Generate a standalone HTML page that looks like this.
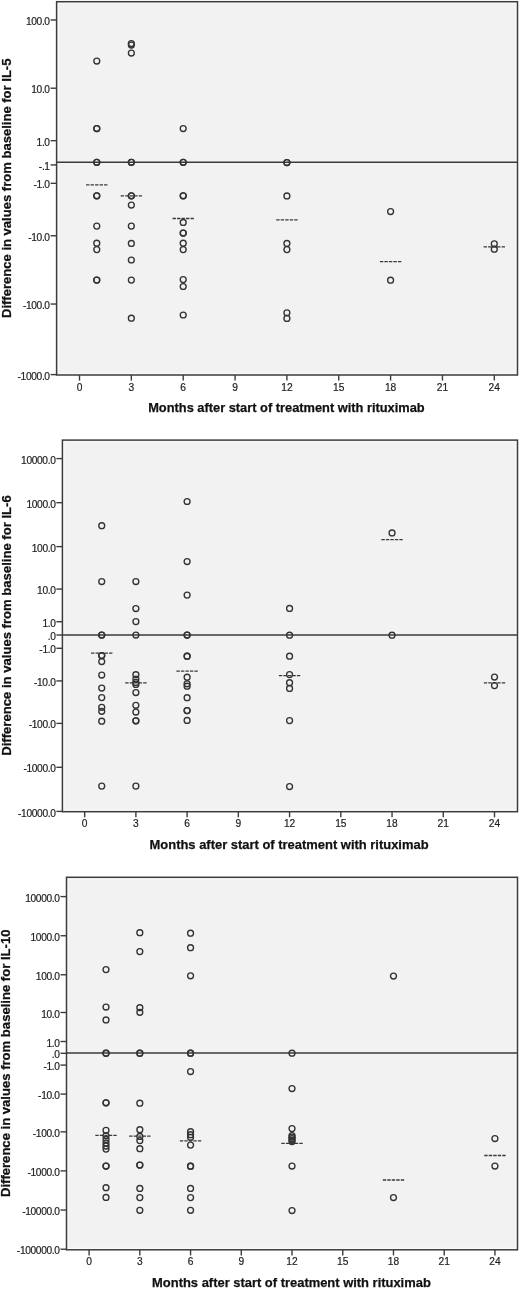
<!DOCTYPE html><html><head><meta charset="utf-8"><style>html,body{margin:0;padding:0;background:#fff;width:520px;height:1291px;overflow:hidden}svg{display:block;will-change:transform}text{font-family:"Liberation Sans",sans-serif}</style></head><body>
<svg width="520" height="1291" viewBox="0 0 520 1291">
<rect width="520" height="1291" fill="#fff"/>
<rect x="56.6" y="1.7" width="460.90" height="373.30" fill="#f2f2f2"/>
<rect x="58.1" y="3.2" width="457.90" height="370.30" fill="none" stroke="#f8f8f8" stroke-width="1.5"/>
<line x1="56.6" x2="517.5" y1="162.30" y2="162.30" stroke="#3a3a3a" stroke-width="1.5"/>
<rect x="56.6" y="1.7" width="460.90" height="373.30" fill="none" stroke="#3c3c3c" stroke-width="1.5"/>
<line x1="50.6" x2="56.6" y1="19.97" y2="19.97" stroke="#3c3c3c" stroke-width="1.4"/>
<text x="49.70" y="25.07" font-size="10.2" letter-spacing="-0.35" text-anchor="end" fill="#1e1e1e" stroke="#1e1e1e" stroke-width="0.2">100.0</text>
<line x1="50.6" x2="56.6" y1="88.21" y2="88.21" stroke="#3c3c3c" stroke-width="1.4"/>
<text x="49.70" y="93.31" font-size="10.2" letter-spacing="-0.35" text-anchor="end" fill="#1e1e1e" stroke="#1e1e1e" stroke-width="0.2">10.0</text>
<line x1="50.6" x2="56.6" y1="140.67" y2="140.67" stroke="#3c3c3c" stroke-width="1.4"/>
<text x="49.70" y="145.77" font-size="10.2" letter-spacing="-0.35" text-anchor="end" fill="#1e1e1e" stroke="#1e1e1e" stroke-width="0.2">1.0</text>
<line x1="50.6" x2="56.6" y1="164.93" y2="164.93" stroke="#3c3c3c" stroke-width="1.4"/>
<text x="49.70" y="170.03" font-size="10.2" letter-spacing="-0.35" text-anchor="end" fill="#1e1e1e" stroke="#1e1e1e" stroke-width="0.2">-.1</text>
<line x1="50.6" x2="56.6" y1="183.33" y2="183.33" stroke="#3c3c3c" stroke-width="1.4"/>
<text x="49.70" y="188.43" font-size="10.2" letter-spacing="-0.35" text-anchor="end" fill="#1e1e1e" stroke="#1e1e1e" stroke-width="0.2">-1.0</text>
<line x1="50.6" x2="56.6" y1="235.79" y2="235.79" stroke="#3c3c3c" stroke-width="1.4"/>
<text x="49.70" y="240.89" font-size="10.2" letter-spacing="-0.35" text-anchor="end" fill="#1e1e1e" stroke="#1e1e1e" stroke-width="0.2">-10.0</text>
<line x1="50.6" x2="56.6" y1="304.03" y2="304.03" stroke="#3c3c3c" stroke-width="1.4"/>
<text x="49.70" y="309.13" font-size="10.2" letter-spacing="-0.35" text-anchor="end" fill="#1e1e1e" stroke="#1e1e1e" stroke-width="0.2">-100.0</text>
<line x1="50.6" x2="56.6" y1="374.61" y2="374.61" stroke="#3c3c3c" stroke-width="1.4"/>
<text x="49.70" y="379.71" font-size="10.2" letter-spacing="-0.35" text-anchor="end" fill="#1e1e1e" stroke="#1e1e1e" stroke-width="0.2">-1000.0</text>
<line x1="79.50" x2="79.50" y1="375.0" y2="380.6" stroke="#3c3c3c" stroke-width="1.4"/>
<text x="79.50" y="390.60" font-size="10.2" text-anchor="middle" fill="#1e1e1e" stroke="#1e1e1e" stroke-width="0.2">0</text>
<line x1="131.35" x2="131.35" y1="375.0" y2="380.6" stroke="#3c3c3c" stroke-width="1.4"/>
<text x="131.35" y="390.60" font-size="10.2" text-anchor="middle" fill="#1e1e1e" stroke="#1e1e1e" stroke-width="0.2">3</text>
<line x1="183.20" x2="183.20" y1="375.0" y2="380.6" stroke="#3c3c3c" stroke-width="1.4"/>
<text x="183.20" y="390.60" font-size="10.2" text-anchor="middle" fill="#1e1e1e" stroke="#1e1e1e" stroke-width="0.2">6</text>
<line x1="235.05" x2="235.05" y1="375.0" y2="380.6" stroke="#3c3c3c" stroke-width="1.4"/>
<text x="235.05" y="390.60" font-size="10.2" text-anchor="middle" fill="#1e1e1e" stroke="#1e1e1e" stroke-width="0.2">9</text>
<line x1="286.90" x2="286.90" y1="375.0" y2="380.6" stroke="#3c3c3c" stroke-width="1.4"/>
<text x="286.90" y="390.60" font-size="10.2" text-anchor="middle" fill="#1e1e1e" stroke="#1e1e1e" stroke-width="0.2">12</text>
<line x1="338.75" x2="338.75" y1="375.0" y2="380.6" stroke="#3c3c3c" stroke-width="1.4"/>
<text x="338.75" y="390.60" font-size="10.2" text-anchor="middle" fill="#1e1e1e" stroke="#1e1e1e" stroke-width="0.2">15</text>
<line x1="390.59" x2="390.59" y1="375.0" y2="380.6" stroke="#3c3c3c" stroke-width="1.4"/>
<text x="390.59" y="390.60" font-size="10.2" text-anchor="middle" fill="#1e1e1e" stroke="#1e1e1e" stroke-width="0.2">18</text>
<line x1="442.44" x2="442.44" y1="375.0" y2="380.6" stroke="#3c3c3c" stroke-width="1.4"/>
<text x="442.44" y="390.60" font-size="10.2" text-anchor="middle" fill="#1e1e1e" stroke="#1e1e1e" stroke-width="0.2">21</text>
<line x1="494.29" x2="494.29" y1="375.0" y2="380.6" stroke="#3c3c3c" stroke-width="1.4"/>
<text x="494.29" y="390.60" font-size="10.2" text-anchor="middle" fill="#1e1e1e" stroke="#1e1e1e" stroke-width="0.2">24</text>
<text x="286.45" y="411.9" font-size="13" font-weight="bold" text-anchor="middle" fill="#111" stroke="#111" stroke-width="0.25" textLength="276.5" lengthAdjust="spacingAndGlyphs">Months after start of treatment with rituximab</text>
<text transform="translate(11.3,188.3) rotate(-90)" font-size="13" font-weight="bold" text-anchor="middle" fill="#111" stroke="#111" stroke-width="0.25" textLength="259.5" lengthAdjust="spacingAndGlyphs">Difference in values from baseline for IL-5</text>
<line x1="86.08" x2="107.48" y1="184.8" y2="184.8" stroke="#3a3a3a" stroke-width="1.3" stroke-dasharray="3.4,1.1"/>
<line x1="120.65" x2="142.05" y1="195.8" y2="195.8" stroke="#3a3a3a" stroke-width="1.3" stroke-dasharray="3.4,1.1"/>
<line x1="172.50" x2="193.90" y1="218.5" y2="218.5" stroke="#3a3a3a" stroke-width="1.3" stroke-dasharray="3.4,1.1"/>
<line x1="276.20" x2="297.60" y1="219.9" y2="219.9" stroke="#3a3a3a" stroke-width="1.3" stroke-dasharray="3.4,1.1"/>
<line x1="379.89" x2="401.29" y1="261.6" y2="261.6" stroke="#3a3a3a" stroke-width="1.3" stroke-dasharray="3.4,1.1"/>
<line x1="483.59" x2="504.99" y1="246.8" y2="246.8" stroke="#3a3a3a" stroke-width="1.3" stroke-dasharray="3.4,1.1"/>
<circle cx="96.78" cy="61.1" r="2.95" fill="none" stroke="#333" stroke-width="1.35"/>
<circle cx="96.78" cy="128.5" r="2.95" fill="none" stroke="#333" stroke-width="1.35"/>
<circle cx="96.78" cy="128.5" r="2.95" fill="none" stroke="#333" stroke-width="1.35"/>
<circle cx="96.78" cy="162.3" r="2.95" fill="none" stroke="#333" stroke-width="1.35"/>
<circle cx="96.78" cy="162.3" r="2.95" fill="none" stroke="#333" stroke-width="1.35"/>
<circle cx="96.78" cy="195.8" r="2.95" fill="none" stroke="#333" stroke-width="1.35"/>
<circle cx="96.78" cy="195.8" r="2.95" fill="none" stroke="#333" stroke-width="1.35"/>
<circle cx="96.78" cy="226.1" r="2.95" fill="none" stroke="#333" stroke-width="1.35"/>
<circle cx="96.78" cy="243.2" r="2.95" fill="none" stroke="#333" stroke-width="1.35"/>
<circle cx="96.78" cy="249.6" r="2.95" fill="none" stroke="#333" stroke-width="1.35"/>
<circle cx="96.78" cy="280.1" r="2.95" fill="none" stroke="#333" stroke-width="1.35"/>
<circle cx="96.78" cy="280.1" r="2.95" fill="none" stroke="#333" stroke-width="1.35"/>
<circle cx="131.35" cy="43.5" r="2.95" fill="none" stroke="#333" stroke-width="1.35"/>
<circle cx="131.35" cy="45" r="2.95" fill="none" stroke="#333" stroke-width="1.35"/>
<circle cx="131.35" cy="53" r="2.95" fill="none" stroke="#333" stroke-width="1.35"/>
<circle cx="131.35" cy="162.3" r="2.95" fill="none" stroke="#333" stroke-width="1.35"/>
<circle cx="131.35" cy="162.3" r="2.95" fill="none" stroke="#333" stroke-width="1.35"/>
<circle cx="131.35" cy="195.8" r="2.95" fill="none" stroke="#333" stroke-width="1.35"/>
<circle cx="131.35" cy="195.8" r="2.95" fill="none" stroke="#333" stroke-width="1.35"/>
<circle cx="131.35" cy="205" r="2.95" fill="none" stroke="#333" stroke-width="1.35"/>
<circle cx="131.35" cy="226.1" r="2.95" fill="none" stroke="#333" stroke-width="1.35"/>
<circle cx="131.35" cy="243.4" r="2.95" fill="none" stroke="#333" stroke-width="1.35"/>
<circle cx="131.35" cy="260" r="2.95" fill="none" stroke="#333" stroke-width="1.35"/>
<circle cx="131.35" cy="280.1" r="2.95" fill="none" stroke="#333" stroke-width="1.35"/>
<circle cx="131.35" cy="318.2" r="2.95" fill="none" stroke="#333" stroke-width="1.35"/>
<circle cx="183.20" cy="128.5" r="2.95" fill="none" stroke="#333" stroke-width="1.35"/>
<circle cx="183.20" cy="162.3" r="2.95" fill="none" stroke="#333" stroke-width="1.35"/>
<circle cx="183.20" cy="162.3" r="2.95" fill="none" stroke="#333" stroke-width="1.35"/>
<circle cx="183.20" cy="195.8" r="2.95" fill="none" stroke="#333" stroke-width="1.35"/>
<circle cx="183.20" cy="195.8" r="2.95" fill="none" stroke="#333" stroke-width="1.35"/>
<circle cx="183.20" cy="222.4" r="2.95" fill="none" stroke="#333" stroke-width="1.35"/>
<circle cx="183.20" cy="233" r="2.95" fill="none" stroke="#333" stroke-width="1.35"/>
<circle cx="183.20" cy="233" r="2.95" fill="none" stroke="#333" stroke-width="1.35"/>
<circle cx="183.20" cy="243.2" r="2.95" fill="none" stroke="#333" stroke-width="1.35"/>
<circle cx="183.20" cy="249.6" r="2.95" fill="none" stroke="#333" stroke-width="1.35"/>
<circle cx="183.20" cy="279.6" r="2.95" fill="none" stroke="#333" stroke-width="1.35"/>
<circle cx="183.20" cy="286.5" r="2.95" fill="none" stroke="#333" stroke-width="1.35"/>
<circle cx="183.20" cy="315" r="2.95" fill="none" stroke="#333" stroke-width="1.35"/>
<circle cx="286.90" cy="162.5" r="2.95" fill="none" stroke="#333" stroke-width="1.35"/>
<circle cx="286.90" cy="162.5" r="2.95" fill="none" stroke="#333" stroke-width="1.35"/>
<circle cx="286.90" cy="195.9" r="2.95" fill="none" stroke="#333" stroke-width="1.35"/>
<circle cx="286.90" cy="243.4" r="2.95" fill="none" stroke="#333" stroke-width="1.35"/>
<circle cx="286.90" cy="249.6" r="2.95" fill="none" stroke="#333" stroke-width="1.35"/>
<circle cx="286.90" cy="312.8" r="2.95" fill="none" stroke="#333" stroke-width="1.35"/>
<circle cx="286.90" cy="318.4" r="2.95" fill="none" stroke="#333" stroke-width="1.35"/>
<circle cx="390.59" cy="211.5" r="2.95" fill="none" stroke="#333" stroke-width="1.35"/>
<circle cx="390.59" cy="280.2" r="2.95" fill="none" stroke="#333" stroke-width="1.35"/>
<circle cx="494.29" cy="243.8" r="2.95" fill="none" stroke="#333" stroke-width="1.35"/>
<circle cx="494.29" cy="249.2" r="2.95" fill="none" stroke="#333" stroke-width="1.35"/>
<rect x="62.4" y="440.1" width="455.10" height="371.60" fill="#f2f2f2"/>
<rect x="63.9" y="441.6" width="452.10" height="368.60" fill="none" stroke="#f8f8f8" stroke-width="1.5"/>
<line x1="62.4" x2="517.5" y1="635.00" y2="635.00" stroke="#3a3a3a" stroke-width="1.5"/>
<rect x="62.4" y="440.1" width="455.10" height="371.60" fill="none" stroke="#3c3c3c" stroke-width="1.5"/>
<line x1="56.4" x2="62.4" y1="458.60" y2="458.60" stroke="#3c3c3c" stroke-width="1.4"/>
<text x="55.50" y="463.70" font-size="10.2" letter-spacing="-0.35" text-anchor="end" fill="#1e1e1e" stroke="#1e1e1e" stroke-width="0.2">10000.0</text>
<line x1="56.4" x2="62.4" y1="502.68" y2="502.68" stroke="#3c3c3c" stroke-width="1.4"/>
<text x="55.50" y="507.78" font-size="10.2" letter-spacing="-0.35" text-anchor="end" fill="#1e1e1e" stroke="#1e1e1e" stroke-width="0.2">1000.0</text>
<line x1="56.4" x2="62.4" y1="546.61" y2="546.61" stroke="#3c3c3c" stroke-width="1.4"/>
<text x="55.50" y="551.71" font-size="10.2" letter-spacing="-0.35" text-anchor="end" fill="#1e1e1e" stroke="#1e1e1e" stroke-width="0.2">100.0</text>
<line x1="56.4" x2="62.4" y1="589.07" y2="589.07" stroke="#3c3c3c" stroke-width="1.4"/>
<text x="55.50" y="594.17" font-size="10.2" letter-spacing="-0.35" text-anchor="end" fill="#1e1e1e" stroke="#1e1e1e" stroke-width="0.2">10.0</text>
<line x1="56.4" x2="62.4" y1="621.72" y2="621.72" stroke="#3c3c3c" stroke-width="1.4"/>
<text x="55.50" y="626.82" font-size="10.2" letter-spacing="-0.35" text-anchor="end" fill="#1e1e1e" stroke="#1e1e1e" stroke-width="0.2">1.0</text>
<line x1="56.4" x2="62.4" y1="635.00" y2="635.00" stroke="#3c3c3c" stroke-width="1.4"/>
<text x="55.50" y="640.10" font-size="10.2" letter-spacing="-0.35" text-anchor="end" fill="#1e1e1e" stroke="#1e1e1e" stroke-width="0.2">.0</text>
<line x1="56.4" x2="62.4" y1="648.28" y2="648.28" stroke="#3c3c3c" stroke-width="1.4"/>
<text x="55.50" y="653.38" font-size="10.2" letter-spacing="-0.35" text-anchor="end" fill="#1e1e1e" stroke="#1e1e1e" stroke-width="0.2">-1.0</text>
<line x1="56.4" x2="62.4" y1="680.93" y2="680.93" stroke="#3c3c3c" stroke-width="1.4"/>
<text x="55.50" y="686.03" font-size="10.2" letter-spacing="-0.35" text-anchor="end" fill="#1e1e1e" stroke="#1e1e1e" stroke-width="0.2">-10.0</text>
<line x1="56.4" x2="62.4" y1="723.39" y2="723.39" stroke="#3c3c3c" stroke-width="1.4"/>
<text x="55.50" y="728.49" font-size="10.2" letter-spacing="-0.35" text-anchor="end" fill="#1e1e1e" stroke="#1e1e1e" stroke-width="0.2">-100.0</text>
<line x1="56.4" x2="62.4" y1="767.32" y2="767.32" stroke="#3c3c3c" stroke-width="1.4"/>
<text x="55.50" y="772.42" font-size="10.2" letter-spacing="-0.35" text-anchor="end" fill="#1e1e1e" stroke="#1e1e1e" stroke-width="0.2">-1000.0</text>
<line x1="56.4" x2="62.4" y1="811.40" y2="811.40" stroke="#3c3c3c" stroke-width="1.4"/>
<text x="55.50" y="816.50" font-size="10.2" letter-spacing="-0.35" text-anchor="end" fill="#1e1e1e" stroke="#1e1e1e" stroke-width="0.2">-10000.0</text>
<line x1="84.65" x2="84.65" y1="811.7" y2="817.3000000000001" stroke="#3c3c3c" stroke-width="1.4"/>
<text x="84.65" y="827.30" font-size="10.2" text-anchor="middle" fill="#1e1e1e" stroke="#1e1e1e" stroke-width="0.2">0</text>
<line x1="135.88" x2="135.88" y1="811.7" y2="817.3000000000001" stroke="#3c3c3c" stroke-width="1.4"/>
<text x="135.88" y="827.30" font-size="10.2" text-anchor="middle" fill="#1e1e1e" stroke="#1e1e1e" stroke-width="0.2">3</text>
<line x1="187.11" x2="187.11" y1="811.7" y2="817.3000000000001" stroke="#3c3c3c" stroke-width="1.4"/>
<text x="187.11" y="827.30" font-size="10.2" text-anchor="middle" fill="#1e1e1e" stroke="#1e1e1e" stroke-width="0.2">6</text>
<line x1="238.34" x2="238.34" y1="811.7" y2="817.3000000000001" stroke="#3c3c3c" stroke-width="1.4"/>
<text x="238.34" y="827.30" font-size="10.2" text-anchor="middle" fill="#1e1e1e" stroke="#1e1e1e" stroke-width="0.2">9</text>
<line x1="289.57" x2="289.57" y1="811.7" y2="817.3000000000001" stroke="#3c3c3c" stroke-width="1.4"/>
<text x="289.57" y="827.30" font-size="10.2" text-anchor="middle" fill="#1e1e1e" stroke="#1e1e1e" stroke-width="0.2">12</text>
<line x1="340.81" x2="340.81" y1="811.7" y2="817.3000000000001" stroke="#3c3c3c" stroke-width="1.4"/>
<text x="340.81" y="827.30" font-size="10.2" text-anchor="middle" fill="#1e1e1e" stroke="#1e1e1e" stroke-width="0.2">15</text>
<line x1="392.04" x2="392.04" y1="811.7" y2="817.3000000000001" stroke="#3c3c3c" stroke-width="1.4"/>
<text x="392.04" y="827.30" font-size="10.2" text-anchor="middle" fill="#1e1e1e" stroke="#1e1e1e" stroke-width="0.2">18</text>
<line x1="443.27" x2="443.27" y1="811.7" y2="817.3000000000001" stroke="#3c3c3c" stroke-width="1.4"/>
<text x="443.27" y="827.30" font-size="10.2" text-anchor="middle" fill="#1e1e1e" stroke="#1e1e1e" stroke-width="0.2">21</text>
<line x1="494.50" x2="494.50" y1="811.7" y2="817.3000000000001" stroke="#3c3c3c" stroke-width="1.4"/>
<text x="494.50" y="827.30" font-size="10.2" text-anchor="middle" fill="#1e1e1e" stroke="#1e1e1e" stroke-width="0.2">24</text>
<text x="289.05" y="848.8" font-size="13" font-weight="bold" text-anchor="middle" fill="#111" stroke="#111" stroke-width="0.25" textLength="279" lengthAdjust="spacingAndGlyphs">Months after start of treatment with rituximab</text>
<text transform="translate(11.2,625.5) rotate(-90)" font-size="13" font-weight="bold" text-anchor="middle" fill="#111" stroke="#111" stroke-width="0.25" textLength="260.5" lengthAdjust="spacingAndGlyphs">Difference in values from baseline for IL-6</text>
<line x1="91.03" x2="112.43" y1="653.1" y2="653.1" stroke="#3a3a3a" stroke-width="1.3" stroke-dasharray="3.4,1.1"/>
<line x1="125.18" x2="146.58" y1="682.8" y2="682.8" stroke="#3a3a3a" stroke-width="1.3" stroke-dasharray="3.4,1.1"/>
<line x1="176.41" x2="197.81" y1="671.2" y2="671.2" stroke="#3a3a3a" stroke-width="1.3" stroke-dasharray="3.4,1.1"/>
<line x1="278.87" x2="300.27" y1="675.7" y2="675.7" stroke="#3a3a3a" stroke-width="1.3" stroke-dasharray="3.4,1.1"/>
<line x1="381.34" x2="402.74" y1="539.7" y2="539.7" stroke="#3a3a3a" stroke-width="1.3" stroke-dasharray="3.4,1.1"/>
<line x1="483.80" x2="505.20" y1="682.9" y2="682.9" stroke="#3a3a3a" stroke-width="1.3" stroke-dasharray="3.4,1.1"/>
<circle cx="101.73" cy="525.7" r="2.95" fill="none" stroke="#333" stroke-width="1.35"/>
<circle cx="101.73" cy="581.5" r="2.95" fill="none" stroke="#333" stroke-width="1.35"/>
<circle cx="101.73" cy="635" r="2.95" fill="none" stroke="#333" stroke-width="1.35"/>
<circle cx="101.73" cy="635" r="2.95" fill="none" stroke="#333" stroke-width="1.35"/>
<circle cx="101.73" cy="655.5" r="2.95" fill="none" stroke="#333" stroke-width="1.35"/>
<circle cx="101.73" cy="655.5" r="2.95" fill="none" stroke="#333" stroke-width="1.35"/>
<circle cx="101.73" cy="661.5" r="2.95" fill="none" stroke="#333" stroke-width="1.35"/>
<circle cx="101.73" cy="675" r="2.95" fill="none" stroke="#333" stroke-width="1.35"/>
<circle cx="101.73" cy="688" r="2.95" fill="none" stroke="#333" stroke-width="1.35"/>
<circle cx="101.73" cy="697.6" r="2.95" fill="none" stroke="#333" stroke-width="1.35"/>
<circle cx="101.73" cy="707.3" r="2.95" fill="none" stroke="#333" stroke-width="1.35"/>
<circle cx="101.73" cy="711.3" r="2.95" fill="none" stroke="#333" stroke-width="1.35"/>
<circle cx="101.73" cy="721.2" r="2.95" fill="none" stroke="#333" stroke-width="1.35"/>
<circle cx="101.73" cy="786.1" r="2.95" fill="none" stroke="#333" stroke-width="1.35"/>
<circle cx="135.88" cy="581.5" r="2.95" fill="none" stroke="#333" stroke-width="1.35"/>
<circle cx="135.88" cy="608.5" r="2.95" fill="none" stroke="#333" stroke-width="1.35"/>
<circle cx="135.88" cy="621.6" r="2.95" fill="none" stroke="#333" stroke-width="1.35"/>
<circle cx="135.88" cy="635" r="2.95" fill="none" stroke="#333" stroke-width="1.35"/>
<circle cx="135.88" cy="674.7" r="2.95" fill="none" stroke="#333" stroke-width="1.35"/>
<circle cx="135.88" cy="679" r="2.95" fill="none" stroke="#333" stroke-width="1.35"/>
<circle cx="135.88" cy="682.4" r="2.95" fill="none" stroke="#333" stroke-width="1.35"/>
<circle cx="135.88" cy="684.4" r="2.95" fill="none" stroke="#333" stroke-width="1.35"/>
<circle cx="135.88" cy="692.5" r="2.95" fill="none" stroke="#333" stroke-width="1.35"/>
<circle cx="135.88" cy="705.3" r="2.95" fill="none" stroke="#333" stroke-width="1.35"/>
<circle cx="135.88" cy="712" r="2.95" fill="none" stroke="#333" stroke-width="1.35"/>
<circle cx="135.88" cy="720.8" r="2.95" fill="none" stroke="#333" stroke-width="1.35"/>
<circle cx="135.88" cy="720.8" r="2.95" fill="none" stroke="#333" stroke-width="1.35"/>
<circle cx="135.88" cy="786.1" r="2.95" fill="none" stroke="#333" stroke-width="1.35"/>
<circle cx="187.11" cy="501.5" r="2.95" fill="none" stroke="#333" stroke-width="1.35"/>
<circle cx="187.11" cy="561.5" r="2.95" fill="none" stroke="#333" stroke-width="1.35"/>
<circle cx="187.11" cy="595.1" r="2.95" fill="none" stroke="#333" stroke-width="1.35"/>
<circle cx="187.11" cy="635" r="2.95" fill="none" stroke="#333" stroke-width="1.35"/>
<circle cx="187.11" cy="635" r="2.95" fill="none" stroke="#333" stroke-width="1.35"/>
<circle cx="187.11" cy="656.2" r="2.95" fill="none" stroke="#333" stroke-width="1.35"/>
<circle cx="187.11" cy="656.2" r="2.95" fill="none" stroke="#333" stroke-width="1.35"/>
<circle cx="187.11" cy="677.2" r="2.95" fill="none" stroke="#333" stroke-width="1.35"/>
<circle cx="187.11" cy="683.8" r="2.95" fill="none" stroke="#333" stroke-width="1.35"/>
<circle cx="187.11" cy="686.2" r="2.95" fill="none" stroke="#333" stroke-width="1.35"/>
<circle cx="187.11" cy="697.7" r="2.95" fill="none" stroke="#333" stroke-width="1.35"/>
<circle cx="187.11" cy="710.6" r="2.95" fill="none" stroke="#333" stroke-width="1.35"/>
<circle cx="187.11" cy="710.6" r="2.95" fill="none" stroke="#333" stroke-width="1.35"/>
<circle cx="187.11" cy="720.4" r="2.95" fill="none" stroke="#333" stroke-width="1.35"/>
<circle cx="289.57" cy="608.4" r="2.95" fill="none" stroke="#333" stroke-width="1.35"/>
<circle cx="289.57" cy="635.2" r="2.95" fill="none" stroke="#333" stroke-width="1.35"/>
<circle cx="289.57" cy="656.2" r="2.95" fill="none" stroke="#333" stroke-width="1.35"/>
<circle cx="289.57" cy="674.6" r="2.95" fill="none" stroke="#333" stroke-width="1.35"/>
<circle cx="289.57" cy="682.7" r="2.95" fill="none" stroke="#333" stroke-width="1.35"/>
<circle cx="289.57" cy="688.4" r="2.95" fill="none" stroke="#333" stroke-width="1.35"/>
<circle cx="289.57" cy="720.6" r="2.95" fill="none" stroke="#333" stroke-width="1.35"/>
<circle cx="289.57" cy="786.5" r="2.95" fill="none" stroke="#333" stroke-width="1.35"/>
<circle cx="392.04" cy="532.9" r="2.95" fill="none" stroke="#333" stroke-width="1.35"/>
<circle cx="392.04" cy="635.2" r="2.95" fill="none" stroke="#333" stroke-width="1.35"/>
<circle cx="494.50" cy="677" r="2.95" fill="none" stroke="#333" stroke-width="1.35"/>
<circle cx="494.50" cy="685.6" r="2.95" fill="none" stroke="#333" stroke-width="1.35"/>
<rect x="66.5" y="877.3" width="451.00" height="372.50" fill="#f2f2f2"/>
<rect x="68.0" y="878.8" width="448.00" height="369.50" fill="none" stroke="#f8f8f8" stroke-width="1.5"/>
<line x1="66.5" x2="517.5" y1="1053.00" y2="1053.00" stroke="#3a3a3a" stroke-width="1.5"/>
<rect x="66.5" y="877.3" width="451.00" height="372.50" fill="none" stroke="#3c3c3c" stroke-width="1.5"/>
<line x1="60.5" x2="66.5" y1="896.58" y2="896.58" stroke="#3c3c3c" stroke-width="1.4"/>
<text x="59.60" y="901.68" font-size="10.2" letter-spacing="-0.35" text-anchor="end" fill="#1e1e1e" stroke="#1e1e1e" stroke-width="0.2">10000.0</text>
<line x1="60.5" x2="66.5" y1="935.74" y2="935.74" stroke="#3c3c3c" stroke-width="1.4"/>
<text x="59.60" y="940.84" font-size="10.2" letter-spacing="-0.35" text-anchor="end" fill="#1e1e1e" stroke="#1e1e1e" stroke-width="0.2">1000.0</text>
<line x1="60.5" x2="66.5" y1="974.77" y2="974.77" stroke="#3c3c3c" stroke-width="1.4"/>
<text x="59.60" y="979.87" font-size="10.2" letter-spacing="-0.35" text-anchor="end" fill="#1e1e1e" stroke="#1e1e1e" stroke-width="0.2">100.0</text>
<line x1="60.5" x2="66.5" y1="1012.50" y2="1012.50" stroke="#3c3c3c" stroke-width="1.4"/>
<text x="59.60" y="1017.60" font-size="10.2" letter-spacing="-0.35" text-anchor="end" fill="#1e1e1e" stroke="#1e1e1e" stroke-width="0.2">10.0</text>
<line x1="60.5" x2="66.5" y1="1041.51" y2="1041.51" stroke="#3c3c3c" stroke-width="1.4"/>
<text x="59.60" y="1046.61" font-size="10.2" letter-spacing="-0.35" text-anchor="end" fill="#1e1e1e" stroke="#1e1e1e" stroke-width="0.2">1.0</text>
<line x1="60.5" x2="66.5" y1="1053.30" y2="1053.30" stroke="#3c3c3c" stroke-width="1.4"/>
<text x="59.60" y="1058.40" font-size="10.2" letter-spacing="-0.35" text-anchor="end" fill="#1e1e1e" stroke="#1e1e1e" stroke-width="0.2">.0</text>
<line x1="60.5" x2="66.5" y1="1065.09" y2="1065.09" stroke="#3c3c3c" stroke-width="1.4"/>
<text x="59.60" y="1070.19" font-size="10.2" letter-spacing="-0.35" text-anchor="end" fill="#1e1e1e" stroke="#1e1e1e" stroke-width="0.2">-1.0</text>
<line x1="60.5" x2="66.5" y1="1094.10" y2="1094.10" stroke="#3c3c3c" stroke-width="1.4"/>
<text x="59.60" y="1099.20" font-size="10.2" letter-spacing="-0.35" text-anchor="end" fill="#1e1e1e" stroke="#1e1e1e" stroke-width="0.2">-10.0</text>
<line x1="60.5" x2="66.5" y1="1131.83" y2="1131.83" stroke="#3c3c3c" stroke-width="1.4"/>
<text x="59.60" y="1136.93" font-size="10.2" letter-spacing="-0.35" text-anchor="end" fill="#1e1e1e" stroke="#1e1e1e" stroke-width="0.2">-100.0</text>
<line x1="60.5" x2="66.5" y1="1170.86" y2="1170.86" stroke="#3c3c3c" stroke-width="1.4"/>
<text x="59.60" y="1175.96" font-size="10.2" letter-spacing="-0.35" text-anchor="end" fill="#1e1e1e" stroke="#1e1e1e" stroke-width="0.2">-1000.0</text>
<line x1="60.5" x2="66.5" y1="1210.02" y2="1210.02" stroke="#3c3c3c" stroke-width="1.4"/>
<text x="59.60" y="1215.12" font-size="10.2" letter-spacing="-0.35" text-anchor="end" fill="#1e1e1e" stroke="#1e1e1e" stroke-width="0.2">-10000.0</text>
<line x1="60.5" x2="66.5" y1="1249.20" y2="1249.20" stroke="#3c3c3c" stroke-width="1.4"/>
<text x="59.60" y="1254.30" font-size="10.2" letter-spacing="-0.35" text-anchor="end" fill="#1e1e1e" stroke="#1e1e1e" stroke-width="0.2">-100000.0</text>
<line x1="89.10" x2="89.10" y1="1249.8" y2="1255.3999999999999" stroke="#3c3c3c" stroke-width="1.4"/>
<text x="89.10" y="1265.40" font-size="10.2" text-anchor="middle" fill="#1e1e1e" stroke="#1e1e1e" stroke-width="0.2">0</text>
<line x1="139.83" x2="139.83" y1="1249.8" y2="1255.3999999999999" stroke="#3c3c3c" stroke-width="1.4"/>
<text x="139.83" y="1265.40" font-size="10.2" text-anchor="middle" fill="#1e1e1e" stroke="#1e1e1e" stroke-width="0.2">3</text>
<line x1="190.56" x2="190.56" y1="1249.8" y2="1255.3999999999999" stroke="#3c3c3c" stroke-width="1.4"/>
<text x="190.56" y="1265.40" font-size="10.2" text-anchor="middle" fill="#1e1e1e" stroke="#1e1e1e" stroke-width="0.2">6</text>
<line x1="241.29" x2="241.29" y1="1249.8" y2="1255.3999999999999" stroke="#3c3c3c" stroke-width="1.4"/>
<text x="241.29" y="1265.40" font-size="10.2" text-anchor="middle" fill="#1e1e1e" stroke="#1e1e1e" stroke-width="0.2">9</text>
<line x1="292.02" x2="292.02" y1="1249.8" y2="1255.3999999999999" stroke="#3c3c3c" stroke-width="1.4"/>
<text x="292.02" y="1265.40" font-size="10.2" text-anchor="middle" fill="#1e1e1e" stroke="#1e1e1e" stroke-width="0.2">12</text>
<line x1="342.75" x2="342.75" y1="1249.8" y2="1255.3999999999999" stroke="#3c3c3c" stroke-width="1.4"/>
<text x="342.75" y="1265.40" font-size="10.2" text-anchor="middle" fill="#1e1e1e" stroke="#1e1e1e" stroke-width="0.2">15</text>
<line x1="393.48" x2="393.48" y1="1249.8" y2="1255.3999999999999" stroke="#3c3c3c" stroke-width="1.4"/>
<text x="393.48" y="1265.40" font-size="10.2" text-anchor="middle" fill="#1e1e1e" stroke="#1e1e1e" stroke-width="0.2">18</text>
<line x1="444.21" x2="444.21" y1="1249.8" y2="1255.3999999999999" stroke="#3c3c3c" stroke-width="1.4"/>
<text x="444.21" y="1265.40" font-size="10.2" text-anchor="middle" fill="#1e1e1e" stroke="#1e1e1e" stroke-width="0.2">21</text>
<line x1="494.94" x2="494.94" y1="1249.8" y2="1255.3999999999999" stroke="#3c3c3c" stroke-width="1.4"/>
<text x="494.94" y="1265.40" font-size="10.2" text-anchor="middle" fill="#1e1e1e" stroke="#1e1e1e" stroke-width="0.2">24</text>
<text x="291.45" y="1286.9" font-size="13" font-weight="bold" text-anchor="middle" fill="#111" stroke="#111" stroke-width="0.25" textLength="278.7" lengthAdjust="spacingAndGlyphs">Months after start of treatment with rituximab</text>
<text transform="translate(10.0,1063.3) rotate(-90)" font-size="13" font-weight="bold" text-anchor="middle" fill="#111" stroke="#111" stroke-width="0.25" textLength="267.5" lengthAdjust="spacingAndGlyphs">Difference in values from baseline for IL-10</text>
<line x1="95.31" x2="116.71" y1="1135.4" y2="1135.4" stroke="#3a3a3a" stroke-width="1.3" stroke-dasharray="3.4,1.1"/>
<line x1="129.13" x2="150.53" y1="1136.1" y2="1136.1" stroke="#3a3a3a" stroke-width="1.3" stroke-dasharray="3.4,1.1"/>
<line x1="179.86" x2="201.26" y1="1140.8" y2="1140.8" stroke="#3a3a3a" stroke-width="1.3" stroke-dasharray="3.4,1.1"/>
<line x1="281.32" x2="302.72" y1="1143.3" y2="1143.3" stroke="#3a3a3a" stroke-width="1.3" stroke-dasharray="3.4,1.1"/>
<line x1="382.78" x2="404.18" y1="1180" y2="1180" stroke="#3a3a3a" stroke-width="1.3" stroke-dasharray="3.4,1.1"/>
<line x1="484.24" x2="505.64" y1="1155.5" y2="1155.5" stroke="#3a3a3a" stroke-width="1.3" stroke-dasharray="3.4,1.1"/>
<circle cx="106.01" cy="969.6" r="2.95" fill="none" stroke="#333" stroke-width="1.35"/>
<circle cx="106.01" cy="1007" r="2.95" fill="none" stroke="#333" stroke-width="1.35"/>
<circle cx="106.01" cy="1019.9" r="2.95" fill="none" stroke="#333" stroke-width="1.35"/>
<circle cx="106.01" cy="1053.2" r="2.95" fill="none" stroke="#333" stroke-width="1.35"/>
<circle cx="106.01" cy="1053.2" r="2.95" fill="none" stroke="#333" stroke-width="1.35"/>
<circle cx="106.01" cy="1102.8" r="2.95" fill="none" stroke="#333" stroke-width="1.35"/>
<circle cx="106.01" cy="1102.8" r="2.95" fill="none" stroke="#333" stroke-width="1.35"/>
<circle cx="106.01" cy="1130.3" r="2.95" fill="none" stroke="#333" stroke-width="1.35"/>
<circle cx="106.01" cy="1135.8" r="2.95" fill="none" stroke="#333" stroke-width="1.35"/>
<circle cx="106.01" cy="1139.4" r="2.95" fill="none" stroke="#333" stroke-width="1.35"/>
<circle cx="106.01" cy="1143" r="2.95" fill="none" stroke="#333" stroke-width="1.35"/>
<circle cx="106.01" cy="1146" r="2.95" fill="none" stroke="#333" stroke-width="1.35"/>
<circle cx="106.01" cy="1149.1" r="2.95" fill="none" stroke="#333" stroke-width="1.35"/>
<circle cx="106.01" cy="1166" r="2.95" fill="none" stroke="#333" stroke-width="1.35"/>
<circle cx="106.01" cy="1166" r="2.95" fill="none" stroke="#333" stroke-width="1.35"/>
<circle cx="106.01" cy="1187.7" r="2.95" fill="none" stroke="#333" stroke-width="1.35"/>
<circle cx="106.01" cy="1197.4" r="2.95" fill="none" stroke="#333" stroke-width="1.35"/>
<circle cx="139.83" cy="932.7" r="2.95" fill="none" stroke="#333" stroke-width="1.35"/>
<circle cx="139.83" cy="951.6" r="2.95" fill="none" stroke="#333" stroke-width="1.35"/>
<circle cx="139.83" cy="1007.7" r="2.95" fill="none" stroke="#333" stroke-width="1.35"/>
<circle cx="139.83" cy="1012.3" r="2.95" fill="none" stroke="#333" stroke-width="1.35"/>
<circle cx="139.83" cy="1053.2" r="2.95" fill="none" stroke="#333" stroke-width="1.35"/>
<circle cx="139.83" cy="1053.2" r="2.95" fill="none" stroke="#333" stroke-width="1.35"/>
<circle cx="139.83" cy="1103.2" r="2.95" fill="none" stroke="#333" stroke-width="1.35"/>
<circle cx="139.83" cy="1129.7" r="2.95" fill="none" stroke="#333" stroke-width="1.35"/>
<circle cx="139.83" cy="1136.4" r="2.95" fill="none" stroke="#333" stroke-width="1.35"/>
<circle cx="139.83" cy="1140.6" r="2.95" fill="none" stroke="#333" stroke-width="1.35"/>
<circle cx="139.83" cy="1148.7" r="2.95" fill="none" stroke="#333" stroke-width="1.35"/>
<circle cx="139.83" cy="1165" r="2.95" fill="none" stroke="#333" stroke-width="1.35"/>
<circle cx="139.83" cy="1165" r="2.95" fill="none" stroke="#333" stroke-width="1.35"/>
<circle cx="139.83" cy="1188.4" r="2.95" fill="none" stroke="#333" stroke-width="1.35"/>
<circle cx="139.83" cy="1197.6" r="2.95" fill="none" stroke="#333" stroke-width="1.35"/>
<circle cx="139.83" cy="1210.3" r="2.95" fill="none" stroke="#333" stroke-width="1.35"/>
<circle cx="190.56" cy="933.2" r="2.95" fill="none" stroke="#333" stroke-width="1.35"/>
<circle cx="190.56" cy="947.7" r="2.95" fill="none" stroke="#333" stroke-width="1.35"/>
<circle cx="190.56" cy="975.8" r="2.95" fill="none" stroke="#333" stroke-width="1.35"/>
<circle cx="190.56" cy="1053.2" r="2.95" fill="none" stroke="#333" stroke-width="1.35"/>
<circle cx="190.56" cy="1053.2" r="2.95" fill="none" stroke="#333" stroke-width="1.35"/>
<circle cx="190.56" cy="1071.5" r="2.95" fill="none" stroke="#333" stroke-width="1.35"/>
<circle cx="190.56" cy="1131.7" r="2.95" fill="none" stroke="#333" stroke-width="1.35"/>
<circle cx="190.56" cy="1134.7" r="2.95" fill="none" stroke="#333" stroke-width="1.35"/>
<circle cx="190.56" cy="1137.3" r="2.95" fill="none" stroke="#333" stroke-width="1.35"/>
<circle cx="190.56" cy="1145.1" r="2.95" fill="none" stroke="#333" stroke-width="1.35"/>
<circle cx="190.56" cy="1166.2" r="2.95" fill="none" stroke="#333" stroke-width="1.35"/>
<circle cx="190.56" cy="1166.2" r="2.95" fill="none" stroke="#333" stroke-width="1.35"/>
<circle cx="190.56" cy="1188.4" r="2.95" fill="none" stroke="#333" stroke-width="1.35"/>
<circle cx="190.56" cy="1197.6" r="2.95" fill="none" stroke="#333" stroke-width="1.35"/>
<circle cx="190.56" cy="1210.3" r="2.95" fill="none" stroke="#333" stroke-width="1.35"/>
<circle cx="292.02" cy="1053.2" r="2.95" fill="none" stroke="#333" stroke-width="1.35"/>
<circle cx="292.02" cy="1088.5" r="2.95" fill="none" stroke="#333" stroke-width="1.35"/>
<circle cx="292.02" cy="1128.6" r="2.95" fill="none" stroke="#333" stroke-width="1.35"/>
<circle cx="292.02" cy="1135.5" r="2.95" fill="none" stroke="#333" stroke-width="1.35"/>
<circle cx="292.02" cy="1137" r="2.95" fill="none" stroke="#333" stroke-width="1.35"/>
<circle cx="292.02" cy="1138.5" r="2.95" fill="none" stroke="#333" stroke-width="1.35"/>
<circle cx="292.02" cy="1140" r="2.95" fill="none" stroke="#333" stroke-width="1.35"/>
<circle cx="292.02" cy="1141.5" r="2.95" fill="none" stroke="#333" stroke-width="1.35"/>
<circle cx="292.02" cy="1166" r="2.95" fill="none" stroke="#333" stroke-width="1.35"/>
<circle cx="292.02" cy="1210.5" r="2.95" fill="none" stroke="#333" stroke-width="1.35"/>
<circle cx="393.48" cy="976" r="2.95" fill="none" stroke="#333" stroke-width="1.35"/>
<circle cx="393.48" cy="1197.5" r="2.95" fill="none" stroke="#333" stroke-width="1.35"/>
<circle cx="494.94" cy="1138.5" r="2.95" fill="none" stroke="#333" stroke-width="1.35"/>
<circle cx="494.94" cy="1166" r="2.95" fill="none" stroke="#333" stroke-width="1.35"/>
</svg></body></html>
